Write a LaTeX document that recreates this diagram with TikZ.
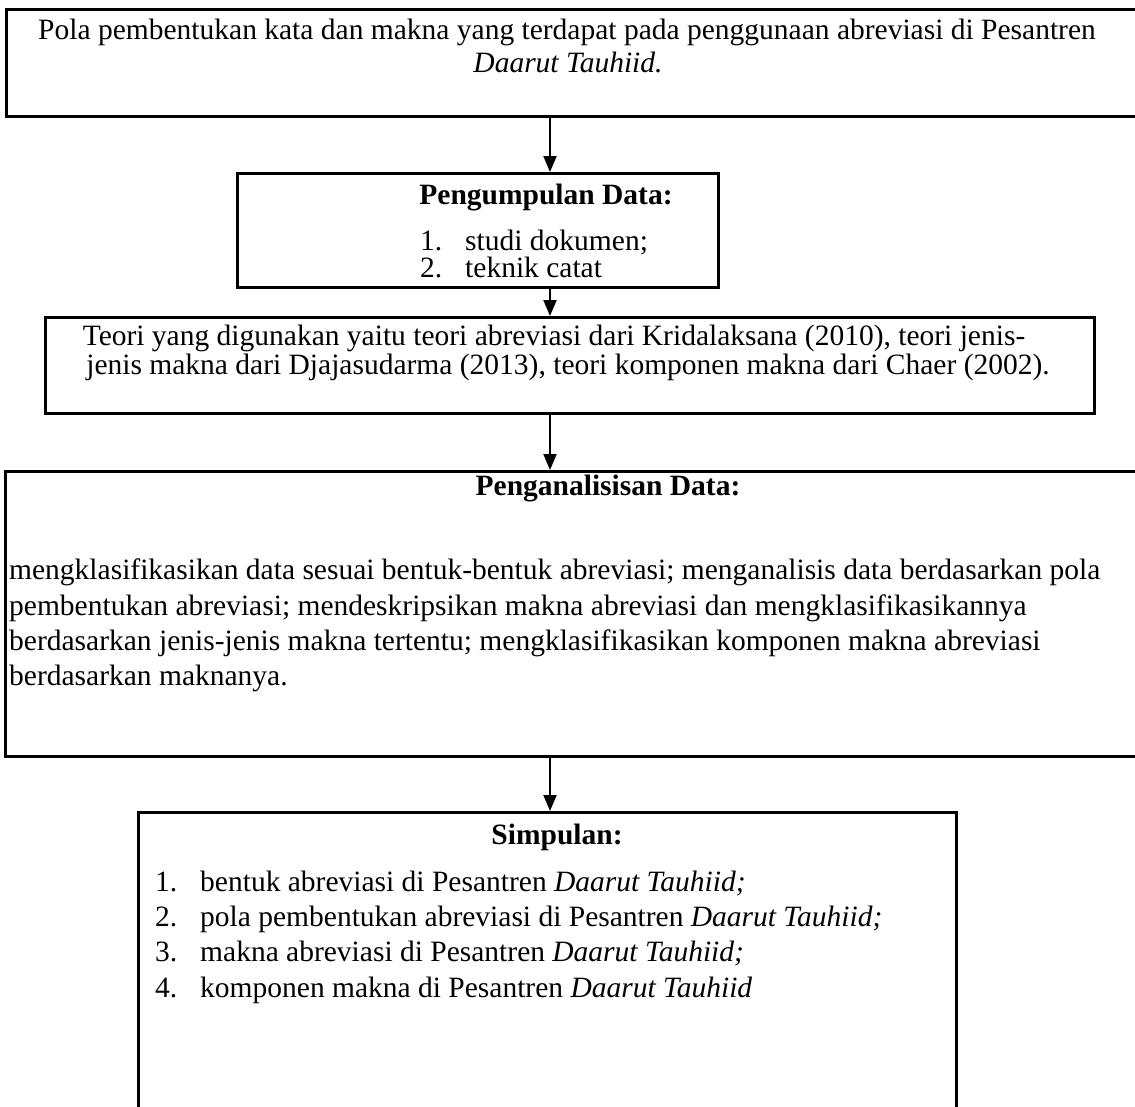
\documentclass[tikz,border=0pt]{standalone}
\usepackage{fontspec}
\setmainfont{Liberation Serif}
\usetikzlibrary{arrows.meta}
\begin{document}
\begin{tikzpicture}[x=1pt,y=-1pt,
  box/.style={draw,line width=2.6pt,inner sep=0,anchor=north west},
  txt/.style={inner sep=0,font=\fontsize{29.5}{35}\selectfont},
  hd/.style={txt,font=\fontsize{29.5}{35}\selectfont\bfseries},
  arr/.style={line width=2pt,-{Triangle[width=13pt,length=16pt]}}]
\useasboundingbox (0,0) rectangle (1135,1106);
\fill[white] (0,0) rectangle (1135,1106);
% boxes
\node[box,minimum width=1135pt,minimum height=107pt] (b1) at (5,8) {};
\node[box,minimum width=481pt,minimum height=114pt] (b2) at (236,172) {};
\node[box,minimum width=1049pt,minimum height=96pt] (b3) at (44,316) {};
\node[box,minimum width=1136pt,minimum height=285pt] (b4) at (4,470) {};
\node[box,minimum width=818pt,minimum height=320pt] (b5) at (137,811) {};
% texts box 1
\node[txt,anchor=mid] (t1a) at (567,37) {Pola pembentukan kata dan makna yang terdapat pada penggunaan abreviasi di Pesantren};
\node[txt,anchor=mid] (t1b) at (568,70) {\textit{Daarut Tauhiid.}};
% box 2
\node[hd,anchor=mid] (t2h) at (546,202) {Pengumpulan Data:};
\node[txt,anchor=mid west] (n21) at (420,248) {1.};
\node[txt,anchor=mid west] (t21) at (465,248) {studi dokumen;};
\node[txt,anchor=mid west] (n22) at (420,275) {2.};
\node[txt,anchor=mid west] (t22) at (465,275) {teknik catat};
% box 3
\node[txt,anchor=mid] (t3a) at (554,343) {Teori yang digunakan yaitu teori abreviasi dari Kridalaksana (2010), teori jenis-};
\node[txt,anchor=mid] (t3b) at (568,372) {jenis makna dari Djajasudarma (2013), teori komponen makna dari Chaer (2002).};
% box 4
\node[hd,anchor=mid] (t4h) at (608,493) {Penganalisisan Data:};
\node[txt,anchor=mid west] (t4a) at (9,577) {mengklasifikasikan data sesuai bentuk-bentuk abreviasi; menganalisis data berdasarkan pola};
\node[txt,anchor=mid west] (t4b) at (9,613) {pembentukan abreviasi; mendeskripsikan makna abreviasi dan mengklasifikasikannya};
\node[txt,anchor=mid west] (t4c) at (9,648) {berdasarkan jenis-jenis makna tertentu; mengklasifikasikan komponen makna abreviasi};
\node[txt,anchor=mid west] (t4d) at (9,683) {berdasarkan maknanya.};
% box 5
\node[hd,anchor=mid] (t5h) at (557,842) {Simpulan:};
\node[txt,anchor=mid west] (n51) at (155,889) {1.};
\node[txt,anchor=mid west] (t51) at (200,889) {bentuk abreviasi di Pesantren \textit{Daarut Tauhiid;}};
\node[txt,anchor=mid west] (n52) at (155,924) {2.};
\node[txt,anchor=mid west] (t52) at (200,924) {pola pembentukan abreviasi di Pesantren \textit{Daarut Tauhiid;}};
\node[txt,anchor=mid west] (n53) at (155,959) {3.};
\node[txt,anchor=mid west] (t53) at (200,959) {makna abreviasi di Pesantren \textit{Daarut Tauhiid;}};
\node[txt,anchor=mid west] (n54) at (155,995) {4.};
\node[txt,anchor=mid west] (t54) at (200,995) {komponen makna di Pesantren \textit{Daarut Tauhiid}};
% arrows
\coordinate (ax) at (550,0);
\draw[arr] (b1.south -| ax) -- (b2.north -| ax);
\draw[arr] (b2.south -| ax) -- (b3.north -| ax);
\draw[arr] (b3.south -| ax) -- (b4.north -| ax);
\draw[arr] (b4.south -| ax) -- (b5.north -| ax);
\end{tikzpicture}
\end{document}
